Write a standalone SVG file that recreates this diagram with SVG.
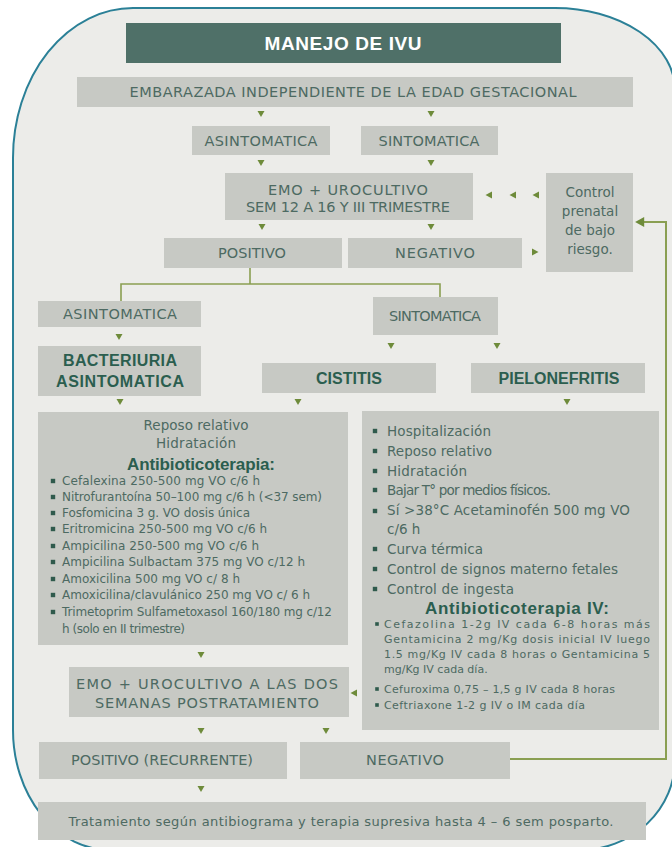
<svg xmlns="http://www.w3.org/2000/svg" width="672" height="847" viewBox="0 0 672 847">
<defs>
<style>
.bx{fill:#c7c9c4}
.t{font-family:"DejaVu Sans","Liberation Sans",Arial,sans-serif;font-size:13.5px;fill:#4d6a62;text-anchor:middle}
.u{font-size:14.5px}
.l{text-anchor:start}
.b{font-family:"Liberation Sans",Arial,sans-serif;font-weight:bold;fill:#2b5e4f;font-size:16px}
.a{fill:#6e8b3a}
.ln{fill:none;stroke:#8a9f52;stroke-width:1.6}
.s{font-size:12px}
.m{font-size:13.5px}
.xs{font-size:11px}
.bul{fill:#2f5a4c}
</style>
<path id="ad" d="M-3.5,-3H3.5L0,3Z"/>
<path id="al" d="M3,-3.5V3.5L-3.5,0Z"/>
<path id="ar" d="M-3,-3.5V3.5L3.5,0Z"/>
<rect id="bq" x="-2.2" y="-2.2" width="4.4" height="4.4"/>
<rect id="bs" x="-1.8" y="-1.8" width="3.6" height="3.6"/>
</defs>
<rect x="0" y="0" width="672" height="847" fill="#ffffff"/>
<path d="M13,158 A120,150 0 0 1 133,8 L555,8 A120,82 0 0 1 675,90 L675,760 A95,90 0 0 1 580,850 L110,850 A97,120 0 0 1 13,730 Z" fill="#ecece9" stroke="#2b8097" stroke-width="2"/>

<g id="title">
<rect x="126" y="23" width="435" height="40" fill="#4f7068"/>
<text class="t b" x="343" y="50" style="fill:#ffffff;font-size:19px" textLength="157">MANEJO DE IVU</text>
</g>
<g id="embarazada">
<rect class="bx" x="77" y="77" width="556" height="30"/>
<text class="t u" x="353" y="97" textLength="447">EMBARAZADA INDEPENDIENTE DE LA EDAD GESTACIONAL</text>
</g>
<g id="asint1">
<rect class="bx" x="192" y="126" width="138" height="29"/>
<text class="t u" x="261" y="146" textLength="113">ASINTOMATICA</text>
</g>
<g id="sint1">
<rect class="bx" x="361" y="126" width="137" height="29"/>
<text class="t u" x="429" y="146" textLength="101">SINTOMATICA</text>
</g>
<g id="emo1">
<rect class="bx" x="225" y="173" width="248" height="47"/>
<text class="t u" x="348" y="195" textLength="160">EMO + UROCULTIVO</text>
<text class="t u" x="348" y="212" textLength="204">SEM 12 A 16 Y III TRIMESTRE</text>
</g>
<g id="control">
<rect class="bx" x="546" y="173" width="87" height="99"/>
<text class="t" x="590" y="197">Control</text>
<text class="t" x="590" y="216">prenatal</text>
<text class="t" x="590" y="235">de bajo</text>
<text class="t" x="590" y="254">riesgo.</text>
</g>
<g id="positivo1">
<rect class="bx" x="164" y="238" width="178" height="30"/>
<text class="t u" x="252" y="258" textLength="68">POSITIVO</text>
</g>
<g id="negativo1">
<rect class="bx" x="348" y="238" width="174" height="30"/>
<text class="t u" x="435" y="258" textLength="80">NEGATIVO</text>
</g>
<g id="asint2">
<rect class="bx" x="38" y="301" width="163" height="26"/>
<text class="t u" x="120" y="319" textLength="114">ASINTOMATICA</text>
</g>
<g id="sint2">
<rect class="bx" x="373" y="297" width="125" height="38"/>
<text class="t u" x="435" y="321" textLength="92">SINTOMATICA</text>
</g>
<g id="bacteriuria">
<rect class="bx" x="38" y="346" width="163" height="50"/>
<text class="t b" x="120" y="366" textLength="114">BACTERIURIA</text>
<text class="t b" x="120" y="387" textLength="128">ASINTOMATICA</text>
</g>
<g id="cistitis">
<rect class="bx" x="262" y="363" width="174" height="30"/>
<text class="t b" x="349" y="384" textLength="66">CISTITIS</text>
</g>
<g id="pielonefritis">
<rect class="bx" x="471" y="363" width="174" height="30"/>
<text class="t b" x="559" y="384" textLength="121">PIELONEFRITIS</text>
</g>
<g id="tratamiento-left">
<rect class="bx" x="38" y="412" width="310" height="233"/>
<text class="t" x="196" y="430" textLength="105">Reposo relativo</text>
<text class="t" x="196" y="448" textLength="80">Hidratación</text>
<text class="t b" x="201" y="470" style="font-size:17px" textLength="148">Antibioticoterapia:</text>
<g class="bul">
<use href="#bq" x="53" y="481"/><use href="#bq" x="53" y="497"/><use href="#bq" x="53" y="513"/><use href="#bq" x="53" y="529"/><use href="#bq" x="53" y="546"/><use href="#bq" x="53" y="562"/><use href="#bq" x="53" y="579"/><use href="#bq" x="53" y="595"/><use href="#bq" x="53" y="612"/>
</g>
<text class="t l s" x="62" y="485" textLength="198">Cefalexina 250-500 mg VO c/6 h</text>
<text class="t l s" x="62" y="501" textLength="260">Nitrofurantoína 50–100 mg c/6 h (&lt;37 sem)</text>
<text class="t l s" x="62" y="517" textLength="188">Fosfomicina 3 g. VO dosis única</text>
<text class="t l s" x="62" y="533" textLength="205">Eritromicina 250-500 mg VO c/6 h</text>
<text class="t l s" x="62" y="550" textLength="197">Ampicilina 250-500 mg VO c/6 h</text>
<text class="t l s" x="62" y="566" textLength="243">Ampicilina Sulbactam 375 mg VO c/12 h</text>
<text class="t l s" x="62" y="583" textLength="178">Amoxicilina 500 mg VO c/ 8 h</text>
<text class="t l s" x="62" y="599" textLength="248">Amoxicilina/clavulánico 250 mg VO c/ 6 h</text>
<text class="t l s" x="62" y="616" textLength="270">Trimetoprim Sulfametoxasol 160/180 mg c/12</text>
<text class="t l s" x="62" y="633" textLength="123">h (solo en II trimestre)</text>
</g>
<g id="tratamiento-right">
<rect class="bx" x="362" y="411" width="297" height="319"/>
<g class="bul">
<use href="#bq" x="375" y="431"/><use href="#bq" x="375" y="451"/><use href="#bq" x="375" y="471"/><use href="#bq" x="375" y="490"/><use href="#bq" x="375" y="511"/><use href="#bq" x="375" y="549"/><use href="#bq" x="375" y="569"/><use href="#bq" x="375" y="589"/>
<use href="#bs" x="377" y="624"/><use href="#bs" x="377" y="689"/><use href="#bs" x="377" y="705"/>
</g>
<text class="t l m" x="387" y="436" textLength="104">Hospitalización</text>
<text class="t l m" x="387" y="456" textLength="105">Reposo relativo</text>
<text class="t l m" x="387" y="476" textLength="80">Hidratación</text>
<text class="t l m" x="387" y="495" textLength="164">Bajar T° por medios físicos.</text>
<text class="t l m" x="387" y="515" textLength="243">Sí &gt;38°C Acetaminofén 500 mg VO</text>
<text class="t l m" x="387" y="534">c/6 h</text>
<text class="t l m" x="387" y="554" textLength="96">Curva térmica</text>
<text class="t l m" x="387" y="574" textLength="231">Control de signos materno fetales</text>
<text class="t l m" x="387" y="594" textLength="127">Control de ingesta</text>
<text class="t b" x="517" y="614" style="font-size:17px" textLength="184">Antibioticoterapia IV:</text>
<text class="t l xs" x="384" y="628" textLength="266">Cefazolina 1-2g IV cada 6-8 horas más</text>
<text class="t l xs" x="384" y="643" textLength="266">Gentamicina 2 mg/Kg dosis inicial IV luego</text>
<text class="t l xs" x="384" y="658" textLength="266">1.5 mg/Kg IV cada 8 horas o Gentamicina 5</text>
<text class="t l xs" x="384" y="673">mg/Kg IV cada día.</text>
<text class="t l xs" x="384" y="693" textLength="231">Cefuroxima 0,75 – 1,5 g IV cada 8 horas</text>
<text class="t l xs" x="384" y="709" textLength="201">Ceftriaxone 1-2 g IV o IM cada día</text>
</g>
<g id="emo2">
<rect class="bx" x="69" y="667" width="280" height="50"/>
<text class="t" x="207" y="689" style="font-size:14.5px" textLength="262">EMO + UROCULTIVO A LAS DOS</text>
<text class="t" x="207" y="708" style="font-size:14.5px" textLength="224">SEMANAS POSTRATAMIENTO</text>
</g>
<g id="positivo2">
<rect class="bx" x="39" y="742" width="248" height="37"/>
<text class="t u" x="162" y="765" textLength="182">POSITIVO (RECURRENTE)</text>
</g>
<g id="negativo2">
<rect class="bx" x="300" y="742" width="210" height="37"/>
<text class="t u" x="405" y="765" textLength="78">NEGATIVO</text>
</g>
<g id="final">
<rect class="bx" x="38" y="802" width="608" height="38"/>
<text class="t" x="341" y="826" style="font-size:13px" textLength="545">Tratamiento según antibiograma y terapia supresiva hasta 4 – 6 sem  posparto.</text>
</g>

<g id="connectors">
<path class="ln" d="M250,268V284M121,301V284H440V297"/>
<path class="ln" d="M510,759H666V222H644" style="stroke-width:2"/>
<g class="a">
<use href="#al" transform="translate(640,222) scale(1.4)"/>
<use href="#ad" x="261" y="114"/><use href="#ad" x="431" y="114"/>
<use href="#ad" x="261" y="163"/><use href="#ad" x="431" y="163"/>
<use href="#al" x="489" y="195"/><use href="#al" x="513" y="195"/><use href="#al" x="536" y="195"/>
<use href="#ad" x="262" y="227"/><use href="#ad" x="431" y="227"/>
<use href="#ar" x="535" y="252"/>
<use href="#ad" x="119" y="337"/>
<use href="#ad" x="391" y="346"/><use href="#ad" x="497" y="346"/>
<use href="#ad" x="120" y="402"/><use href="#ad" x="298" y="402"/><use href="#ad" x="567" y="402"/>
<use href="#ad" x="201" y="655"/>
<use href="#al" x="354" y="693"/>
<use href="#ad" x="201" y="731"/><use href="#ad" x="326" y="731"/>
<use href="#ad" x="201" y="789"/>
</g>
</g>
</svg>
